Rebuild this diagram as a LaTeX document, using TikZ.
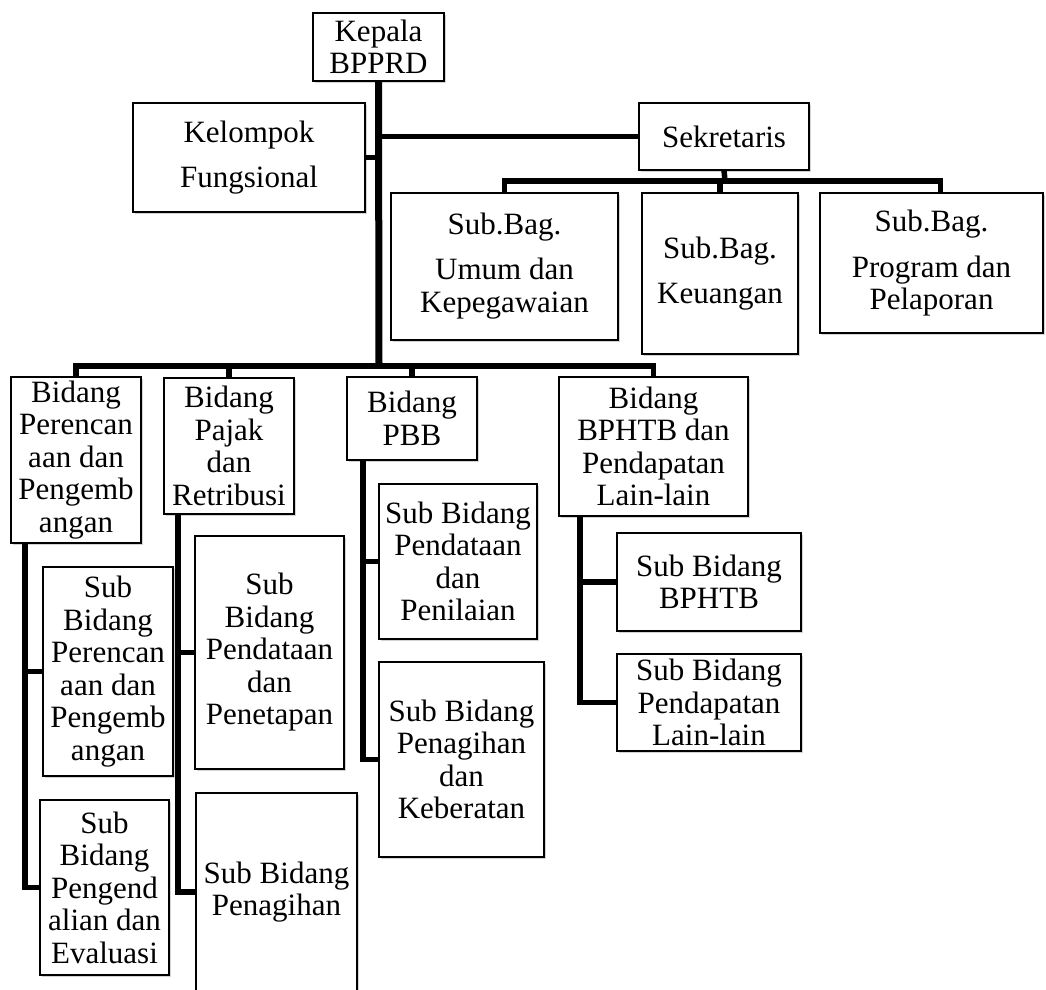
\documentclass[tikz,border=0pt]{standalone}
\usepackage{fontspec}
\setmainfont{Liberation Serif}
\usetikzlibrary{shadows}
\tikzset{
  box/.style={draw, line width=1.3pt, fill=white, inner sep=0pt, outer sep=0pt, align=center,
    font=\fontsize{31}{32.5}\selectfont,
    drop shadow={shadow xshift=1.6pt, shadow yshift=-1.6pt, opacity=0.35}},
  conn/.style={line width=5.5pt, line join=miter},
  trunk/.style={conn, line width=7pt}
}
\begin{document}
\begin{tikzpicture}[x=1pt,y=-1pt]
\useasboundingbox (0,0) rectangle (1046,989);
% top level
\node[box, minimum width=131pt, minimum height=68pt, font=\fontsize{31}{32}\selectfont] (kep) at (378.5,47) {Kepala\\BPPRD};
\node[box, minimum width=232pt, minimum height=109pt, font=\fontsize{31}{45}\selectfont] (kel) at (249,157.5) {Kelompok\\Fungsional};
\node[box, minimum width=170pt, minimum height=67pt] (sek) at (724,136.5) {Sekretaris};
\node[box, minimum width=227pt, minimum height=147pt, font=\fontsize{31}{33}\selectfont] (umum) at (504.5,266.5) {Sub.Bag.\\[12pt]Umum dan\\Kepegawaian};
\node[box, minimum width=156pt, minimum height=161pt, font=\fontsize{31}{45}\selectfont] (keu) at (720,273.5) {Sub.Bag.\\Keuangan};
\node[box, minimum width=223pt, minimum height=140pt, font=\fontsize{31}{32}\selectfont] (prog) at (931.5,263) {Sub.Bag.\\[14pt]Program dan\\Pelaporan};
% bidang
\node[box, minimum width=130pt, minimum height=166pt] (bp) at (76,460) {Bidang\\Perencan\\aan dan\\Pengemb\\angan};
\node[box, minimum width=130pt, minimum height=136pt] (pajak) at (229,446) {Bidang\\Pajak\\dan\\Retribusi};
\node[box, minimum width=130pt, minimum height=83pt] (pbb) at (412,418.5) {Bidang\\PBB};
\node[box, minimum width=189pt, minimum height=139pt] (bph) at (653.5,446.5) {Bidang\\BPHTB dan\\Pendapatan\\Lain-lain};
% sub bidang
\node[box, minimum width=130pt, minimum height=209pt] (spe) at (108,671.5) {Sub\\Bidang\\Perencan\\aan dan\\Pengemb\\angan};
\node[box, minimum width=129pt, minimum height=175pt] (spg) at (104.5,887.5) {Sub\\Bidang\\Pengend\\alian dan\\Evaluasi};
\node[box, minimum width=149pt, minimum height=233pt] (sppt) at (269.5,652.5) {Sub\\Bidang\\Pendataan\\dan\\Penetapan};
\node[box, minimum width=161pt, minimum height=198pt] (spn) at (276.5,892) {Sub Bidang\\Penagihan};
\node[box, minimum width=158pt, minimum height=155pt] (sppn) at (458,561.5) {Sub Bidang\\Pendataan\\dan\\Penilaian};
\node[box, minimum width=165pt, minimum height=195pt] (spk) at (461.5,759.5) {Sub Bidang\\Penagihan\\dan\\Keberatan};
\node[box, minimum width=184pt, minimum height=98pt] (sbph) at (709,582) {Sub Bidang\\BPHTB};
\node[box, minimum width=184pt, minimum height=97pt] (spl) at (709,702.5) {Sub Bidang\\Pendapatan\\Lain-lain};
% connectors
\coordinate (bar) at (379,366);
\coordinate (sekbar) at (725,181);
\draw[trunk] (kep.south) -- (bar);
\draw[conn] (kel.east) -- (kel.east -| kep.south);
\draw[conn] (sek.west) -- (sek.west -| kep.south);
\draw[conn] (sek.south) -- (sekbar);
\draw[conn] (umum.north) |- (sekbar) -| ([xshift=9pt]prog.north);
\draw[conn] (keu.north) -- (keu.north |- sekbar);
\draw[conn] (bp.north) |- (bar) -| (bph.north);
\draw[conn] (pajak.north) -- (pajak.north |- bar);
\draw[conn] (pbb.north) -- (pbb.north |- bar);
\draw[conn] ([xshift=14pt]bp.south west) |- (spe.west);
\draw[conn] ([xshift=14pt]bp.south west) |- (spg.west);
\draw[conn] ([xshift=14pt]pajak.south west) |- (sppt.west);
\draw[conn] ([xshift=14pt]pajak.south west) |- (spn.west);
\draw[conn] ([xshift=16pt]pbb.south west) |- (sppn.west);
\draw[conn] ([xshift=16pt]pbb.south west) |- (spk.west);
\draw[conn] ([xshift=21pt]bph.south west) |- (sbph.west);
\draw[conn] ([xshift=21pt]bph.south west) |- (spl.west);
\end{tikzpicture}
\end{document}
